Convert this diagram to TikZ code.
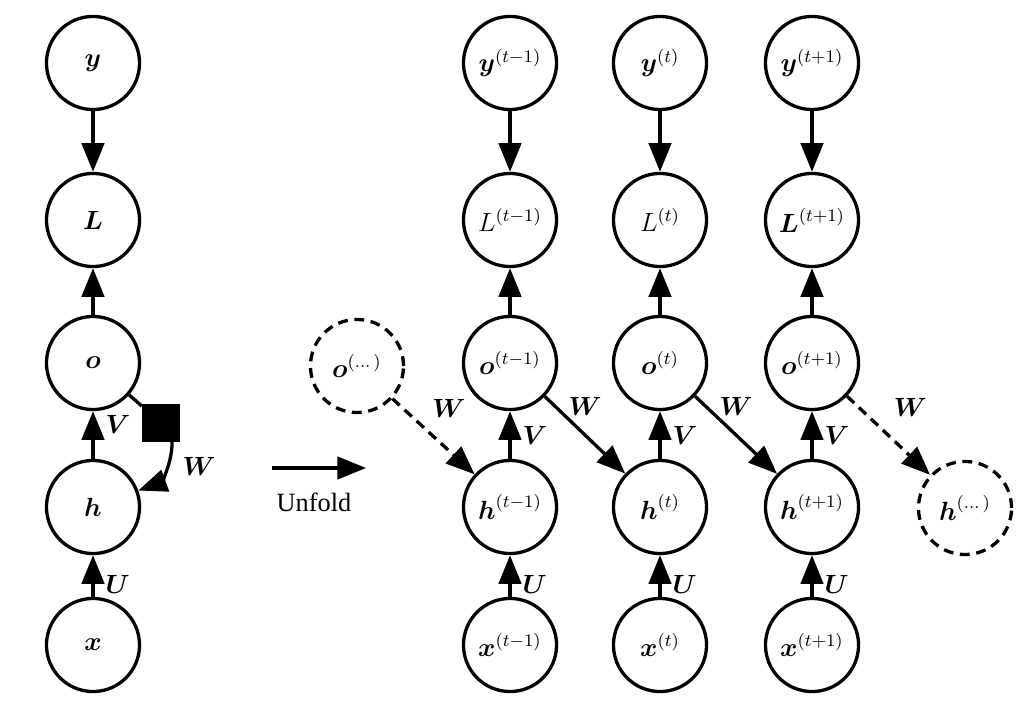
\documentclass[tikz,border=0pt]{standalone}
\usepackage{amsmath}
\usepackage{amssymb}
\usepackage{fontspec}
\newfontfamily\unfoldfont{Liberation Serif}
\usetikzlibrary{arrows.meta}

\begin{document}
\begin{tikzpicture}[x=0.016cm, y=0.016cm]
		\tikzstyle{every node}+=[inner sep=0pt, font=\large]
		\tikzstyle{unit}=[circle, draw, line width=1.5pt, minimum size=1.49cm]
		\tikzstyle{dunit}=[unit, dash pattern=on 4.5pt off 3pt]
		\tikzstyle{arr}=[line width=1.5pt, -{Triangle[length=0.46cm,width=0.36cm]}]
		\tikzstyle{darr}=[arr, dash pattern=on 4.5pt off 3pt]
		\useasboundingbox (0,0) rectangle (1030,-704);
		% folded graph
		\node [unit] (y) at (93,-63) {$\boldsymbol{y}$};
		\node [unit] (L) at (93,-220) {$\boldsymbol{L}$};
		\node [unit] (o) at (93,-363) {$\boldsymbol{o}$};
		\node [unit] (h) at (93,-507) {$\boldsymbol{h}$};
		\node [unit] (x) at (93,-645) {$\boldsymbol{x}$};
		\node [fill, minimum size=0.6cm] (delay) at (161,-423) {};
		\draw [arr] (y) -- (L);
		\draw [arr] (o) -- (L);
		\draw [arr] (h) -- node [right=5pt, yshift=5pt] {$\boldsymbol{V}$} (o);
		\draw [arr] (x) -- node [right=5pt, yshift=-4pt] {$\boldsymbol{U}$} (h);
		\draw [line width=1.5pt] (o) -- (delay);
		\draw [arr] (delay.300) to [out=-90, in=20] node [pos=0.35, right=6pt, yshift=-1pt] {$\boldsymbol{W}$} (h);
		% unfold
		\coordinate (u0) at (272,-468);
		\coordinate (u1) at (366,-468);
		\draw [arr] (u0) -- (u1);
		\node (unfold) at (314,-502) {\unfoldfont Unfold};
		% unfolded graph
		\node [dunit] (odots) at (357,-366) {$\boldsymbol{o}^{(\dots)}$};
		\node [dunit] (hdots) at (965,-508) {$\boldsymbol{h}^{(\dots)}$};
		\node [unit] (y1) at (510,-63) {$\boldsymbol{y}^{(t-1)}$};
		\node [unit] (L1) at (510,-220) {$L^{(t-1)}$};
		\node [unit] (o1) at (510,-363) {$\boldsymbol{o}^{(t-1)}$};
		\node [unit] (h1) at (510,-507) {$\boldsymbol{h}^{(t-1)}$};
		\node [unit] (x1) at (510,-645) {$\boldsymbol{x}^{(t-1)}$};
		\node [unit] (y2) at (660,-63) {$\boldsymbol{y}^{(t)}$};
		\node [unit] (L2) at (660,-220) {$L^{(t)}$};
		\node [unit] (o2) at (660,-363) {$\boldsymbol{o}^{(t)}$};
		\node [unit] (h2) at (660,-507) {$\boldsymbol{h}^{(t)}$};
		\node [unit] (x2) at (660,-645) {$\boldsymbol{x}^{(t)}$};
		\node [unit] (y3) at (812,-63) {$\boldsymbol{y}^{(t+1)}$};
		\node [unit] (L3) at (812,-220) {$\boldsymbol{L}^{(t+1)}$};
		\node [unit] (o3) at (812,-363) {$\boldsymbol{o}^{(t+1)}$};
		\node [unit] (h3) at (812,-507) {$\boldsymbol{h}^{(t+1)}$};
		\node [unit] (x3) at (812,-645) {$\boldsymbol{x}^{(t+1)}$};
		\draw [arr] (y1) -- (L1);
		\draw [arr] (o1) -- (L1);
		\draw [arr] (h1) -- node [right=5pt] {$\boldsymbol{V}$} (o1);
		\draw [arr] (x1) -- node [right=5pt, yshift=-4pt] {$\boldsymbol{U}$} (h1);
		\draw [arr] (y2) -- (L2);
		\draw [arr] (o2) -- (L2);
		\draw [arr] (h2) -- node [right=5pt] {$\boldsymbol{V}$} (o2);
		\draw [arr] (x2) -- node [right=5pt, yshift=-4pt] {$\boldsymbol{U}$} (h2);
		\draw [arr] (y3) -- (L3);
		\draw [arr] (o3) -- (L3);
		\draw [arr] (h3) -- node [right=5pt] {$\boldsymbol{V}$} (o3);
		\draw [arr] (x3) -- node [right=5pt, yshift=-4pt] {$\boldsymbol{U}$} (h3);
		\draw [darr] (odots) -- node [above=8pt, xshift=7pt] {$\boldsymbol{W}$} (h1);
		\draw [arr] (o1) -- node [above=8pt] {$\boldsymbol{W}$} (h2);
		\draw [arr] (o2) -- node [above=8pt] {$\boldsymbol{W}$} (h3);
		\draw [darr] (o3) -- node [above=8pt, xshift=10pt] {$\boldsymbol{W}$} (hdots);
\end{tikzpicture}
\end{document}
